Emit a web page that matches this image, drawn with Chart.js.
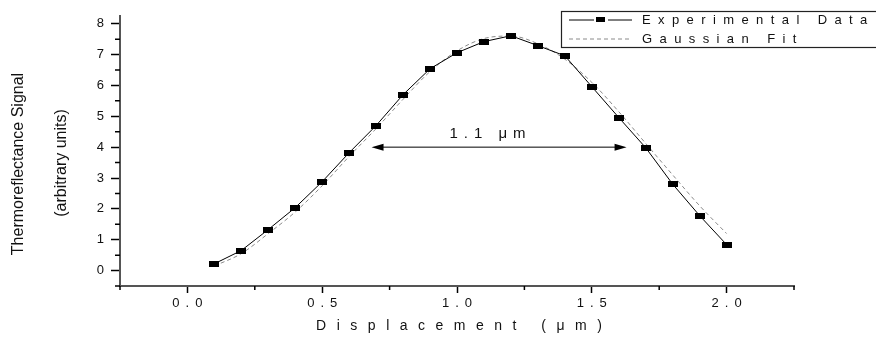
<!DOCTYPE html>
<html>
<head>
<meta charset="utf-8">
<title>Thermoreflectance profile</title>
<script src="https://cdn.jsdelivr.net/npm/chart.js@4/dist/chart.umd.min.js"></script>
<style>
  html, body { margin: 0; padding: 0; background: #fff; }
  #chart { display: block; }
</style>
</head>
<body>
<canvas id="chart" width="876" height="343"></canvas>
<script>
// values (displacement in um, signal in arbitrary units)
const displacement = [0.1, 0.2, 0.3, 0.4, 0.5, 0.6, 0.7, 0.8, 0.9, 1.0,
                      1.1, 1.2, 1.3, 1.4, 1.5, 1.6, 1.7, 1.8, 1.9, 2.0];
const experimental = [0.22, 0.65, 1.33, 2.04, 2.88, 3.82, 4.70, 5.70, 6.54, 7.06,
                      7.42, 7.61, 7.29, 6.96, 5.96, 4.96, 3.98, 2.80, 1.78, 0.84];
const gaussianFit  = [0.15, 0.55, 1.20, 1.90, 2.75, 3.70, 4.60, 5.55, 6.45, 7.12,
                      7.52, 7.60, 7.35, 6.85, 6.10, 5.15, 4.12, 3.10, 2.10, 1.20];

const xTickLabels = ['0.0', '0.5', '1.0', '1.5', '2.0'];
const yTickLabels = ['0', '1', '2', '3', '4', '5', '6', '7', '8'];

// FWHM annotation, in data units
const fwhmEnds = [0.683, 1.629];
const fwhmLevel = 4.0;
const fwhmLabel = '1.1 μm';
const fwhmLabelAt = [1.113, 4.44];

const FONT = '"Liberation Sans", Arial, sans-serif';

// small black rectangle used as marker
const dot = document.createElement('canvas');
dot.width = 10;
dot.height = 6;
dot.getContext('2d').fillRect(0, 0, 10, 6);

function labelFor(list, v) {
    const hit = list.find(l => Math.abs(parseFloat(l) - v) < 1e-6);
    return hit === undefined ? '' : hit;
}

function spacedText(ctx, text, x, y, spacing, align) {
    ctx.letterSpacing = spacing + 'px';
    const w = ctx.measureText(text).width - spacing;
    ctx.textAlign = 'left';
    ctx.fillText(text, align === 'center' ? x - w / 2 : x, y);
    ctx.letterSpacing = '0px';
}

// x tick labels are letter spaced like the original
const spacedXTicks = {
    id: 'spacedXTicks',
    beforeDraw(chart) {
        const sc = chart.scales.x;
        if (sc._spaced) return;
        const base = sc.drawLabels;
        sc.drawLabels = function (area) {
            this.ctx.letterSpacing = '6px';
            base.call(this, area);
            this.ctx.letterSpacing = '0px';
        };
        sc._spaced = true;
    }
};

const extras = {
    id: 'extras',
    afterDraw(chart) {
        const ctx = chart.ctx;
        const x = chart.scales.x, y = chart.scales.y;
        ctx.save();

        // minor ticks (shorter)
        ctx.strokeStyle = '#000';
        ctx.lineWidth = 1.5;
        ctx.beginPath();
        x.ticks.forEach(t => {
            if (labelFor(xTickLabels, t.value) !== '') return;
            const px = x.getPixelForValue(t.value);
            ctx.moveTo(px, y.bottom);
            ctx.lineTo(px, y.bottom + 4);
        });
        y.ticks.forEach(t => {
            if (labelFor(yTickLabels, t.value) !== '') return;
            const py = y.getPixelForValue(t.value);
            ctx.moveTo(x.left - 5, py);
            ctx.lineTo(x.left, py);
        });
        ctx.stroke();

        // FWHM arrow
        const x1 = x.getPixelForValue(fwhmEnds[0]);
        const x2 = x.getPixelForValue(fwhmEnds[1]);
        const ay = y.getPixelForValue(fwhmLevel);
        ctx.lineWidth = 1;
        ctx.beginPath();
        ctx.moveTo(x1 + 8, ay);
        ctx.lineTo(x2 - 8, ay);
        ctx.stroke();
        ctx.fillStyle = '#000';
        ctx.beginPath();
        ctx.moveTo(x1, ay);
        ctx.lineTo(x1 + 12, ay - 3.5);
        ctx.lineTo(x1 + 12, ay + 3.5);
        ctx.closePath();
        ctx.moveTo(x2, ay);
        ctx.lineTo(x2 - 12, ay - 3.5);
        ctx.lineTo(x2 - 12, ay + 3.5);
        ctx.closePath();
        ctx.fill();

        ctx.fillStyle = '#111';
        ctx.textBaseline = 'middle';
        ctx.font = '15px ' + FONT;
        spacedText(ctx, fwhmLabel, x.getPixelForValue(fwhmLabelAt[0]),
                   y.getPixelForValue(fwhmLabelAt[1]), 6, 'center');

        // axis titles
        ctx.font = '14px ' + FONT;
        spacedText(ctx, 'Displacement (μm)', (x.left + x.right) / 2 + 2, 326, 10.5, 'center');

        ctx.font = '16px ' + FONT;
        ctx.save();
        ctx.translate(19, 164);
        ctx.rotate(-Math.PI / 2);
        ctx.textAlign = 'center';
        ctx.fillText('Thermoreflectance Signal', 0, 0);
        ctx.restore();
        ctx.save();
        ctx.translate(62, 163);
        ctx.rotate(-Math.PI / 2);
        ctx.textAlign = 'center';
        ctx.fillText('(arbitrary units)', 0, 0);
        ctx.restore();

        // boxed legend
        ctx.strokeStyle = '#222';
        ctx.lineWidth = 1.2;
        ctx.strokeRect(561.5, 11.5, 330, 36);
        const rows = [20, 39];
        ctx.font = '13px ' + FONT;
        chart.data.datasets.forEach((ds, i) => {
            const ly = rows[i];
            ctx.strokeStyle = ds.borderColor;
            ctx.lineWidth = ds.borderWidth;
            ctx.setLineDash(ds.borderDash || []);
            ctx.beginPath();
            ctx.moveTo(569, ly);
            ctx.lineTo(632, ly);
            ctx.stroke();
            ctx.setLineDash([]);
            if (ds.pointRadius > 0) {
                ctx.fillStyle = '#fff';
                ctx.fillRect(594, ly - 3, 14, 6);
                ctx.drawImage(dot, 596, ly - 3, 9, 5);
            }
            ctx.fillStyle = '#111';
            spacedText(ctx, ds.label, 642, ly, 7.4, 'left');
        });

        ctx.restore();
    }
};

new Chart(document.getElementById('chart'), {
    type: 'line',
    data: {
        datasets: [{
            label: 'Experimental Data',
            data: displacement.map((d, i) => ({ x: d, y: experimental[i] })),
            borderColor: '#000',
            borderWidth: 1,
            tension: 0,
            pointStyle: dot,
            pointRadius: 4,
            pointHoverRadius: 4
        }, {
            label: 'Gaussian Fit',
            data: displacement.map((d, i) => ({ x: d, y: gaussianFit[i] })),
            borderColor: '#8a8a8a',
            borderWidth: 1,
            borderDash: [4, 3],
            cubicInterpolationMode: 'monotone',
            pointRadius: 0
        }]
    },
    options: {
        responsive: false,
        animation: false,
        events: [],
        layout: { padding: { top: 16, right: 82, left: 0, bottom: 0 } },
        plugins: {
            legend: { display: false },
            tooltip: { enabled: false }
        },
        scales: {
            x: {
                type: 'linear',
                min: -0.25,
                max: 2.25,
                afterFit: s => { s.height = 57; },
                ticks: {
                    stepSize: 0.25,
                    autoSkip: false,
                    maxRotation: 0,
                    padding: 3,
                    labelOffset: 3,
                    color: '#111',
                    font: { family: FONT, size: 13 },
                    callback: v => labelFor(xTickLabels, v)
                },
                grid: {
                    drawOnChartArea: false,
                    tickLength: 7,
                    tickWidth: 1.5,
                    tickColor: c => labelFor(xTickLabels, c.tick.value) ? '#000' : 'rgba(0,0,0,0)'
                },
                border: { color: '#555', width: 2 }
            },
            y: {
                min: -0.5,
                max: 8.25,
                afterFit: s => { s.width = 120; },
                ticks: {
                    stepSize: 0.5,
                    includeBounds: false,
                    autoSkip: false,
                    padding: 7,
                    color: '#111',
                    font: { family: FONT, size: 13 },
                    callback: v => labelFor(yTickLabels, v)
                },
                grid: {
                    drawOnChartArea: false,
                    tickLength: 9,
                    tickWidth: 1.5,
                    tickColor: c => labelFor(yTickLabels, c.tick.value) ? '#000' : 'rgba(0,0,0,0)'
                },
                border: { color: '#555', width: 2 }
            }
        }
    },
    plugins: [spacedXTicks, extras]
});
</script>
</body>
</html>
